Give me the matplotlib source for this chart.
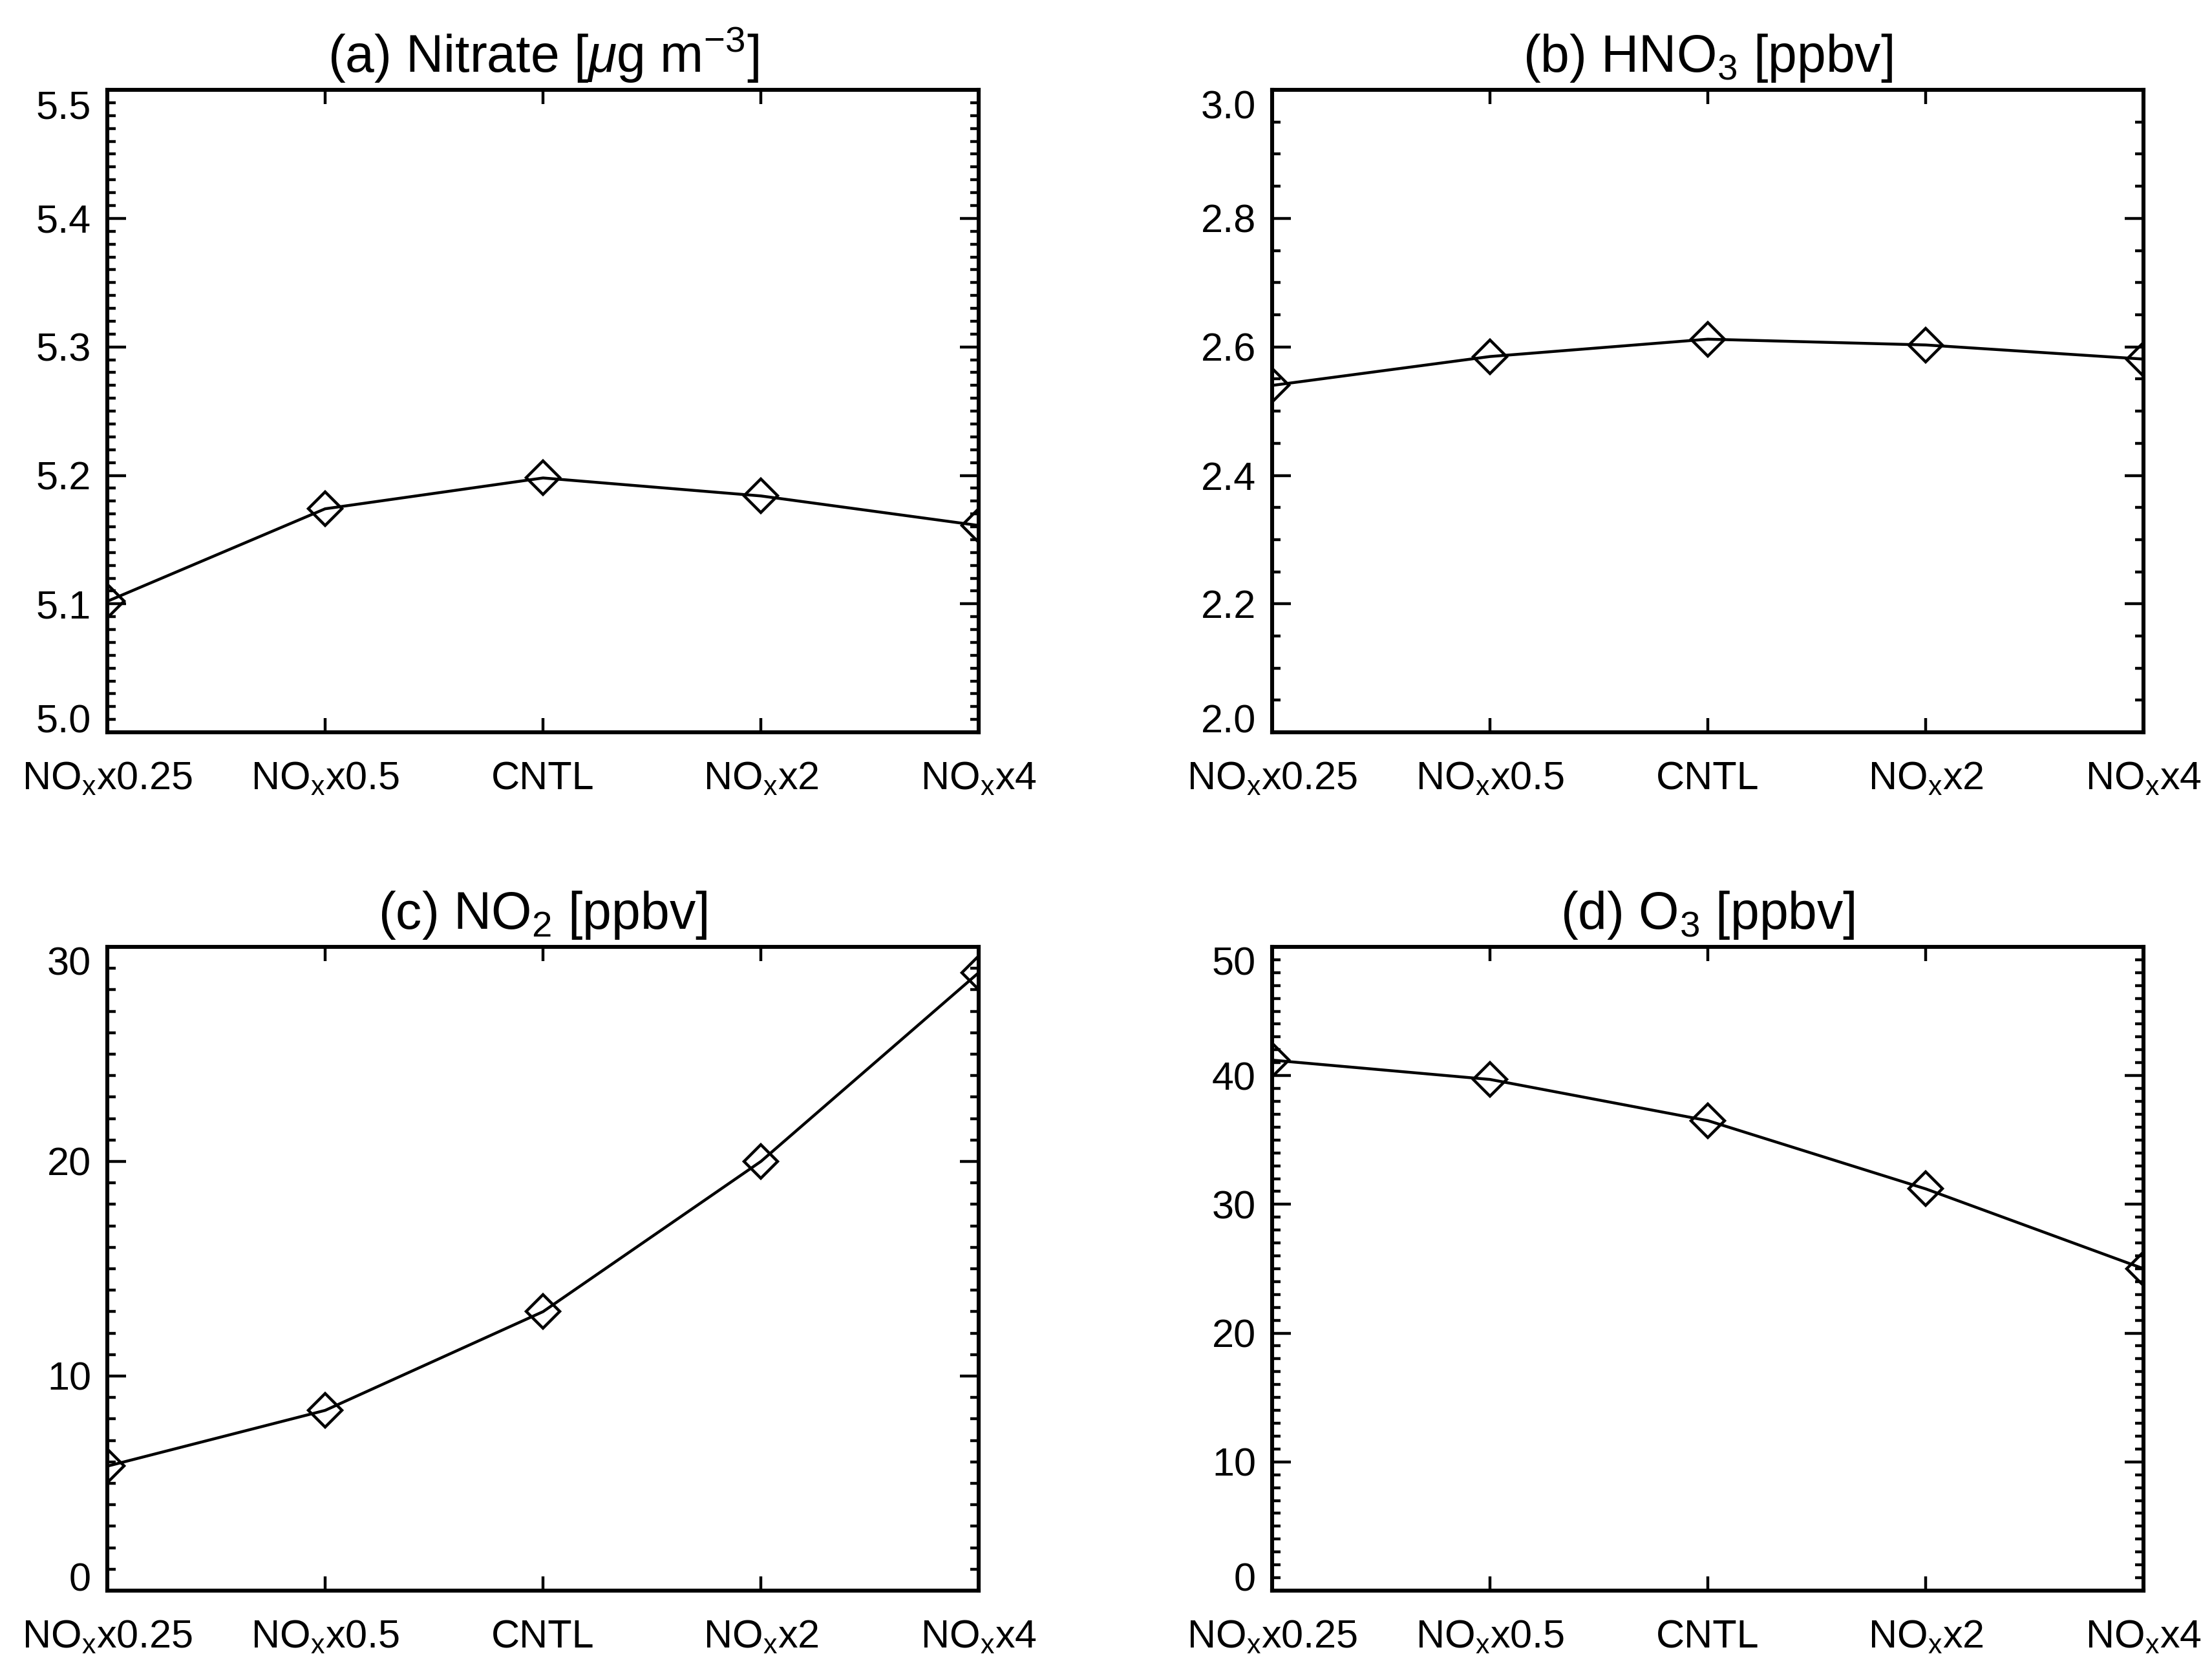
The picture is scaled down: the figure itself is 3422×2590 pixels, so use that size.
import matplotlib.pyplot as plt
from matplotlib.ticker import MultipleLocator, FormatStrFormatter

plt.rcParams['font.family'] = ['Liberation Sans', 'DejaVu Sans']
plt.rcParams['mathtext.fontset'] = 'custom'
plt.rcParams['mathtext.rm'] = 'Liberation Sans'
plt.rcParams['mathtext.it'] = 'Liberation Sans:italic'

# emission scenarios on the x axis
scenarios = [r'NO$_{\rm x}$x0.25', r'NO$_{\rm x}$x0.5', 'CNTL', r'NO$_{\rm x}$x2', r'NO$_{\rm x}$x4']

# values
nitrate = [5.102, 5.174, 5.198, 5.184, 5.161]
hno3 = [2.540, 2.585, 2.612, 2.603, 2.581]
no2 = [5.8, 8.4, 13.0, 20.0, 28.8]
o3 = [41.2, 39.7, 36.5, 31.2, 25.0]

titles = [r'(a) Nitrate [$\mu$g m$^{-3}$]', r'(b) HNO$_{\rm 3}$ [ppbv]',
          r'(c) NO$_{\rm 2}$ [ppbv]', r'(d) O$_{\rm 3}$ [ppbv]']
series = [nitrate, hno3, no2, o3]
ylims = [(5.0, 5.5), (2.0, 3.0), (0, 30), (0, 50)]
yticks = [[5.0, 5.1, 5.2, 5.3, 5.4, 5.5],
          [2.0, 2.2, 2.4, 2.6, 2.8, 3.0],
          [0, 10, 20, 30],
          [0, 10, 20, 30, 40, 50]]
minors = [0.01, 0.05, 1, 1]
fmts = ['%.1f', '%.1f', '%d', '%d']

# axes boxes [left, bottom, width, height]
boxes = [[0.0485, 0.5625, 0.394, 0.3838], [0.5751, 0.5625, 0.394, 0.3838],
         [0.0485, 0.0498, 0.394, 0.3846], [0.5751, 0.0498, 0.394, 0.3846]]

fig = plt.figure(figsize=(17.11, 12.95), dpi=200)
x = list(range(len(scenarios)))

for i in range(4):
    ax = fig.add_axes(boxes[i])
    ax.plot(x, series[i], color='black', lw=1.6, marker='D', ms=13,
            mfc='none', mec='black', mew=1.6)
    ax.set_xlim(0, 4)
    ax.set_ylim(*ylims[i])
    ax.set_xticks(x)
    ax.set_xticklabels(scenarios)
    ax.set_yticks(yticks[i])
    ax.yaxis.set_minor_locator(MultipleLocator(minors[i]))
    ax.yaxis.set_major_formatter(FormatStrFormatter(fmts[i]))
    ax.tick_params(axis='both', which='both', direction='in', top=True, right=True,
                   width=1.6, labelsize=22)
    ax.tick_params(axis='x', which='major', length=8, pad=16)
    ax.tick_params(axis='y', which='major', length=10.5, pad=9)
    ax.tick_params(axis='y', which='minor', length=4.8)
    for s in ax.spines.values():
        s.set_linewidth(2.2)
    ax.set_title(titles[i], fontsize=29, pad=10)
    # end labels sit inside the axis range, as in the original
    ylab = ax.get_yticklabels()
    ylab[0].set_verticalalignment('baseline')
    ylab[-1].set_verticalalignment('top')

fig.savefig('out.png', dpi=200, facecolor='white')
